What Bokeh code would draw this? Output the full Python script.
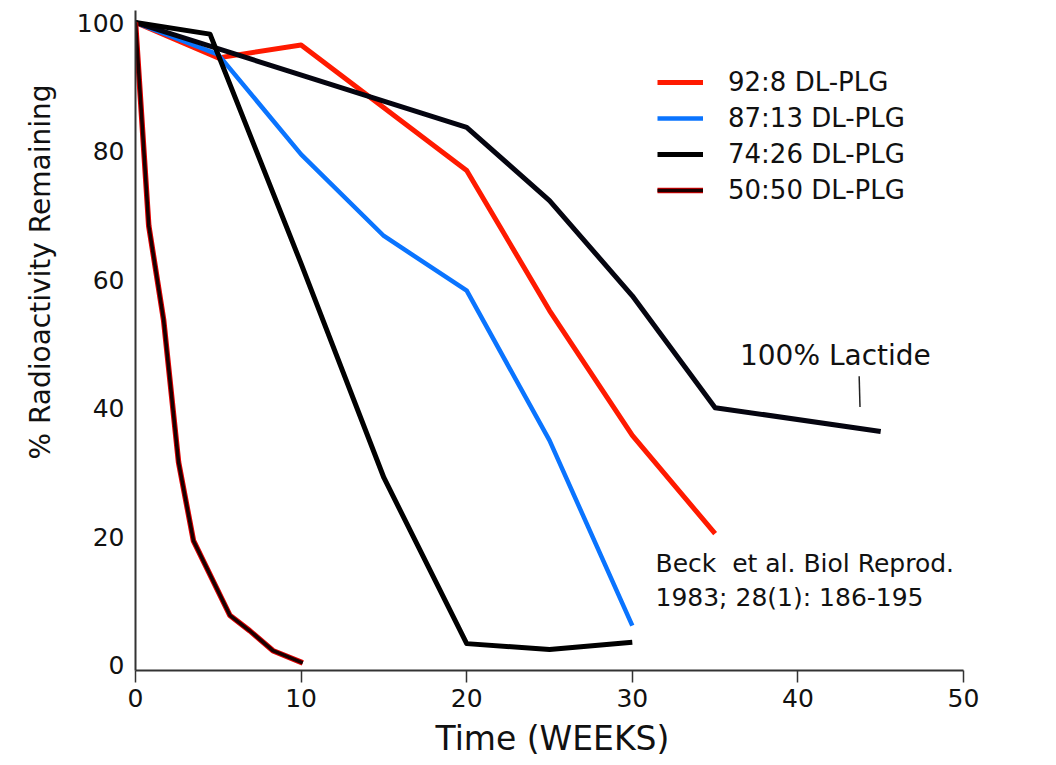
from bokeh.plotting import figure
from bokeh.models import Range1d, Label, Legend, LegendItem, FixedTicker, Segment, ColumnDataSource, Title
from bokeh.embed import file_html
from bokeh.resources import INLINE

# ---- data (weeks, % radioactivity remaining) ----
weeks_92_8 = [0, 5, 10, 20, 25, 30, 35]
pct_92_8 = [100, 94.5, 96.5, 77, 55.2, 35.8, 20.5]

weeks_87_13 = [0, 5, 10, 15, 20, 25, 30]
pct_87_13 = [100, 95, 79.5, 66.8, 58.3, 35, 6.2]

weeks_74_26 = [0, 4.5, 10, 15, 20, 25, 30]
pct_74_26 = [100, 98.2, 62.5, 29.2, 3.4, 2.5, 3.6]

weeks_50_50 = [0, 0.8, 1.7, 2.6, 3.5, 5.7, 6.9, 8.3, 10.1]
pct_50_50 = [100, 68.4, 53.7, 31.6, 19.4, 7.8, 5.4, 2.3, 0.4]

weeks_lactide = [0, 20, 25, 30, 35, 45]
pct_lactide = [100, 83.7, 72.3, 57.5, 40.1, 36.4]

series_labels = ["92:8 DL-PLG", "87:13 DL-PLG", "74:26 DL-PLG", "50:50 DL-PLG"]
x_ticks = [0, 10, 20, 30, 40, 50]
y_ticks = [0, 20, 40, 60, 80, 100]

FONT = "DejaVu Sans"

p = figure(width=1056, height=765, output_backend="svg", toolbar_location=None,
           x_range=Range1d(0, 50), y_range=Range1d(-0.78, 101.87),
           min_border_left=135, min_border_right=93, min_border_top=10, min_border_bottom=95)
p.outline_line_color = None
p.grid.visible = False
p.background_fill_color = "white"
p.border_fill_color = "white"

# axes
p.xaxis.ticker = FixedTicker(ticks=x_ticks)
p.yaxis.ticker = FixedTicker(ticks=y_ticks)
for ax in (p.xaxis, p.yaxis):
    ax.axis_line_color = "#333333"
    ax.axis_line_width = 2
    ax.minor_tick_line_color = None
    ax.major_label_text_font = FONT
    ax.major_label_text_font_size = "25px"
    ax.major_label_text_color = "#111111"
p.xaxis.major_tick_out = 12
p.xaxis.major_tick_in = 0
p.xaxis.major_tick_line_color = "#333333"
p.xaxis.major_tick_line_width = 1.5
p.xaxis.major_label_standoff = 6
p.yaxis.major_tick_out = 0
p.yaxis.major_tick_in = 0
p.yaxis.major_tick_line_color = None
p.yaxis.major_label_standoff = 11

# axis titles
p.add_layout(Title(text="% Radioactivity Remaining", align="left", offset=211, standoff=34,
                   text_font=FONT, text_font_size="28px", text_font_style="normal",
                   text_color="#111111"), "left")
p.add_layout(Title(text="Time (WEEKS)", align="left", offset=300, standoff=15,
                   text_font=FONT, text_font_size="33px", text_font_style="normal",
                   text_color="#111111"), "below")

# lines
r_red = p.line(weeks_92_8, pct_92_8, line_color="#ff1a00", line_width=5, line_join="round")
r_blue = p.line(weeks_87_13, pct_87_13, line_color="#0a74ff", line_width=4.5, line_join="round")
r_lac = p.line(weeks_lactide, pct_lactide, line_color="#050510", line_width=5, line_join="round")
r_black = p.line(weeks_74_26, pct_74_26, line_color="#000000", line_width=5, line_join="round")
r_5050a = p.line(weeks_50_50, pct_50_50, line_color="#e00000", line_width=5.5, line_join="round")
r_5050b = p.line(weeks_50_50, pct_50_50, line_color="#1a0000", line_width=3.5, line_join="round")

legend = Legend(items=[
    LegendItem(label=series_labels[0], renderers=[r_red]),
    LegendItem(label=series_labels[1], renderers=[r_blue]),
    LegendItem(label=series_labels[2], renderers=[r_black]),
    LegendItem(label=series_labels[3], renderers=[r_5050a, r_5050b]),
], location=(522, 462))
legend.border_line_color = None
legend.background_fill_alpha = 0
legend.padding = 0
legend.margin = 0
legend.spacing = 0
legend.glyph_width = 46
legend.glyph_height = 36
legend.label_height = 36
legend.label_standoff = 25
legend.label_text_font = FONT
legend.label_text_font_size = "26px"
legend.label_text_color = "#111111"
p.add_layout(legend, "center")

# annotations
p.add_layout(Label(x=36.5, y=48.2, text="100% Lactide", text_font=FONT, text_font_size="28px",
                   text_align="left", text_baseline="middle", text_color="#111111"))
leader = ColumnDataSource(dict(x0=[43.7], y0=[45.0], x1=[43.75], y1=[40.2]))
p.add_glyph(leader, Segment(x0="x0", y0="y0", x1="x1", y1="y1", line_color="#222222", line_width=1.5))
p.add_layout(Label(x=31.4, y=15.9, text="Beck\u00a0 et al. Biol Reprod.", text_font=FONT,
                   text_font_size="25px", text_align="left", text_baseline="middle", text_color="#111111"))
p.add_layout(Label(x=31.4, y=10.6, text="1983; 28(1): 186-195", text_font=FONT,
                   text_font_size="25px", text_align="left", text_baseline="middle", text_color="#111111"))

open("out.html", "w").write(file_html(p, INLINE))
